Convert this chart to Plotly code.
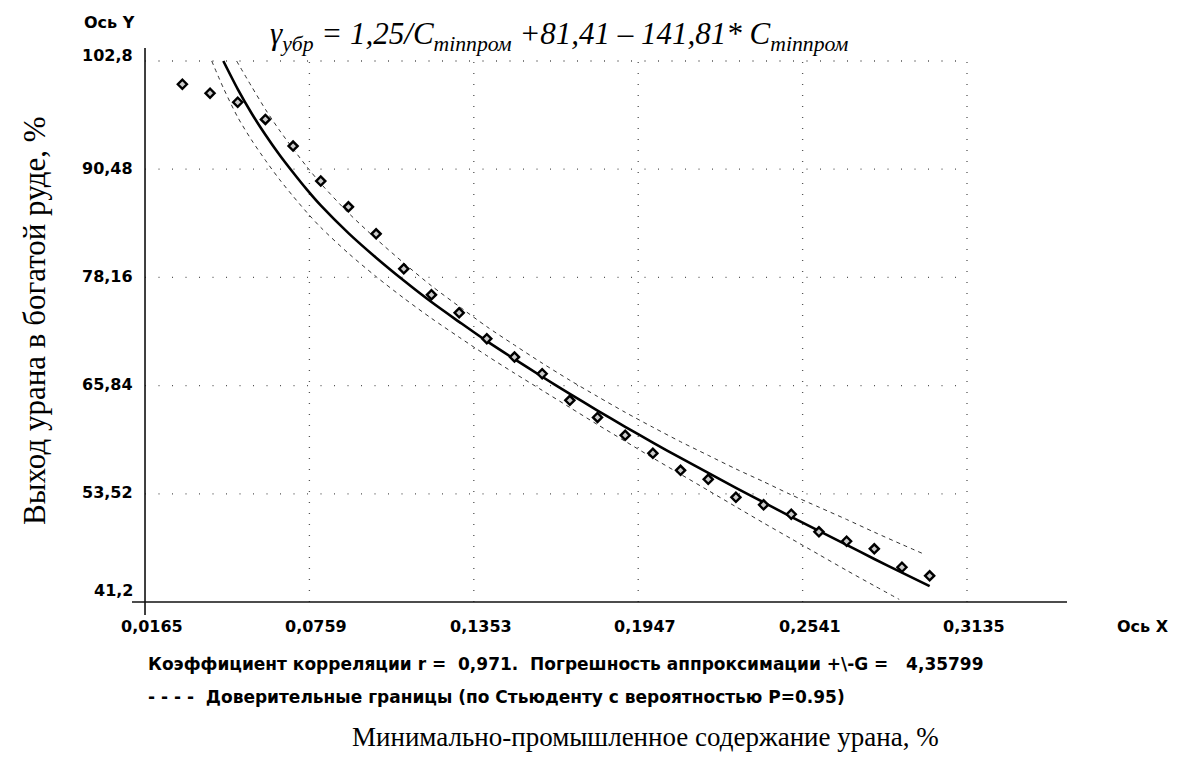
import plotly.graph_objects as go

W, H = 1192, 767

# ---------------- data ----------------
x_pts = [0.03, 0.04, 0.05, 0.06, 0.07, 0.08, 0.09, 0.10, 0.11, 0.12,
         0.13, 0.14, 0.15, 0.16, 0.17, 0.18, 0.19, 0.20, 0.21, 0.22,
         0.23, 0.24, 0.25, 0.26, 0.27, 0.28, 0.29, 0.30]
y_pts = [100.15, 99.13, 98.1, 96.15, 93.11, 89.13, 86.19, 83.12, 79.14, 76.18,
         74.13, 71.18, 69.09, 67.19, 64.16, 62.22, 60.18, 58.13, 56.19, 55.17,
         53.12, 52.26, 51.19, 49.19, 48.12, 47.25, 45.16, 44.18]

x_fit = [0.0448, 0.05, 0.055, 0.06, 0.065, 0.07, 0.075, 0.08, 0.09, 0.10,
         0.11, 0.12, 0.13, 0.14, 0.15, 0.16, 0.17, 0.18, 0.19, 0.20,
         0.21, 0.22, 0.23, 0.24, 0.25, 0.26, 0.27, 0.28, 0.29, 0.30]
y_fit = [102.8, 99.6, 96.85, 94.4, 92.15, 90.1, 88.15, 86.35, 83.2, 80.4,
         77.8, 75.35, 73.1, 70.9, 68.85, 66.85, 64.9, 63.0, 61.15, 59.35,
         57.6, 55.9, 54.2, 52.55, 50.9, 49.3, 47.7, 46.1, 44.55, 43.0]

x_up = [0.0496, 0.055, 0.06, 0.065, 0.07, 0.075, 0.08, 0.09, 0.10, 0.11,
        0.12, 0.13, 0.14, 0.15, 0.16, 0.17, 0.18, 0.19, 0.20, 0.21,
        0.22, 0.23, 0.24, 0.25, 0.26, 0.27, 0.28, 0.29, 0.298]
y_up = [102.8, 99.9, 97.3, 94.95, 92.8, 90.75, 88.85, 85.5, 82.55, 79.8,
        77.2, 74.85, 72.55, 70.45, 68.4, 66.45, 64.6, 62.8, 61.1, 59.45,
        57.9, 56.35, 54.9, 53.4, 52.0, 50.6, 49.15, 47.75, 46.65]

x_lo = [0.0406, 0.045, 0.05, 0.055, 0.06, 0.065, 0.07, 0.075, 0.08, 0.09,
        0.10, 0.11, 0.12, 0.13, 0.14, 0.15, 0.16, 0.17, 0.18, 0.19,
        0.20, 0.21, 0.22, 0.23, 0.24, 0.25, 0.26, 0.27, 0.28, 0.289]
y_lo = [102.8, 99.6, 96.4, 93.8, 91.5, 89.35, 87.4, 85.55, 83.85, 80.9,
        78.25, 75.8, 73.5, 71.35, 69.25, 67.25, 65.3, 63.35, 61.4, 59.5,
        57.6, 55.75, 53.9, 52.05, 50.2, 48.4, 46.6, 44.8, 43.05, 41.5]

x_ticks = [0.0165, 0.0759, 0.1353, 0.1947, 0.2541, 0.3135]
x_tick_text = ["0,0165", "0,0759", "0,1353", "0,1947", "0,2541", "0,3135"]
y_ticks = [41.2, 53.52, 65.84, 78.16, 90.48, 102.8]
y_tick_text = ["41,2", "53,52", "65,84", "78,16", "90,48", "102,8"]

# ---------------- layout geometry (pixels) ----------------
PX_L, PX_R = 132, 1067      # plot area horizontal extent
PY_T, PY_B = 48, 615        # plot area vertical extent
X_RANGE = [0.01180, 0.34963]
Y_RANGE = [39.721, 104.279]

SANS = "DejaVu Sans"
SERIF = "Liberation Serif"

def px(v):
    return v / W

def py(v):
    return 1 - v / H

fig = go.Figure()

band_line = dict(color="#333333", width=1, dash="4px,4px", shape="spline", smoothing=0.8)
fig.add_trace(go.Scatter(x=x_up, y=y_up, mode="lines", line=band_line,
                         hoverinfo="skip", showlegend=False))
fig.add_trace(go.Scatter(x=x_lo, y=y_lo, mode="lines", line=band_line,
                         hoverinfo="skip", showlegend=False))
fig.add_trace(go.Scatter(x=x_fit, y=y_fit, mode="lines",
                         line=dict(color="black", width=2.6, shape="spline", smoothing=0.8),
                         hoverinfo="skip", showlegend=False))
fig.add_trace(go.Scatter(x=x_pts, y=y_pts, mode="markers",
                         marker=dict(symbol="diamond", size=7, color="#cccccc",
                                     line=dict(color="black", width=2.4)),
                         showlegend=False))

shapes = []
for xv in x_ticks[1:]:
    shapes.append(dict(type="line", xref="x", yref="y", x0=xv, x1=xv,
                       y0=y_ticks[0], y1=y_ticks[-1],
                       line=dict(color="#555555", width=1.3, dash="1px,10px"), layer="below"))
for yv in y_ticks[1:]:
    shapes.append(dict(type="line", xref="x", yref="y", x0=x_ticks[0], x1=x_ticks[-1],
                       y0=yv, y1=yv,
                       line=dict(color="#555555", width=1.3, dash="1px,12.5px"), layer="below"))
shapes.append(dict(type="line", xref="x", yref="paper", x0=x_ticks[0], x1=x_ticks[0],
                   y0=py(PY_B), y1=py(PY_T), line=dict(color="#111111", width=1.6)))
shapes.append(dict(type="line", xref="paper", yref="y", x0=px(PX_L), x1=px(PX_R),
                   y0=y_ticks[0], y1=y_ticks[0], line=dict(color="#111111", width=1.6)))

ann = []
tick_font = dict(family=SANS, size=16, color="black", weight="bold")
for v, t in zip(x_ticks, x_tick_text):
    ann.append(dict(x=v, y=py(626), xref="x", yref="paper", text=t, showarrow=False,
                    xanchor="center", yanchor="middle", xshift=7, font=tick_font))
for v, t in zip(y_ticks, y_tick_text):
    shift = 12 if v == y_ticks[0] else (5 if v == y_ticks[-1] else 1)
    ann.append(dict(x=px(135), y=v, xref="paper", yref="y", text=t, showarrow=False,
                    xanchor="right", yanchor="middle", yshift=shift, font=tick_font))

ann.append(dict(x=px(137), y=py(22), xref="paper", yref="paper", text="Ось Y", showarrow=False,
                xanchor="right", yanchor="middle", font=tick_font))
ann.append(dict(x=px(1143), y=py(626), xref="paper", yref="paper", text="Ось X", showarrow=False,
                xanchor="center", yanchor="middle", font=tick_font))

ann.append(dict(x=px(268), y=py(36), xref="paper", yref="paper",
                text="<i>γ<sub>убр</sub> = 1,25/C<sub>minпром</sub> +81,41 – 141,81* C<sub>minпром</sub></i>",
                showarrow=False, xanchor="left", yanchor="middle",
                font=dict(family=SERIF, size=31, color="black")))

text_font = dict(family=SANS, size=17, color="black", weight="bold")
ann.append(dict(x=px(146), y=py(664), xref="paper", yref="paper",
                text="Коэффициент корреляции r =  0,971.  Погрешность аппроксимации +\\-G =   4,35799",
                showarrow=False, xanchor="left", yanchor="middle", font=text_font))
ann.append(dict(x=px(146), y=py(697), xref="paper", yref="paper",
                text="- - - -  Доверительные границы (по Стьюденту с вероятностью P=0.95)",
                showarrow=False, xanchor="left", yanchor="middle", font=text_font))
ann.append(dict(x=px(645), y=py(737), xref="paper", yref="paper",
                text="Минимально-промышленное содержание урана, %",
                showarrow=False, xanchor="center", yanchor="middle",
                font=dict(family=SERIF, size=27, color="black")))
ann.append(dict(x=px(34), y=py(321), xref="paper", yref="paper",
                text="Выход урана в богатой руде, %", textangle=-90,
                showarrow=False, xanchor="center", yanchor="middle",
                font=dict(family=SERIF, size=31, color="black")))

fig.update_layout(
    width=W, height=H,
    margin=dict(l=0, r=0, t=0, b=0),
    paper_bgcolor="white", plot_bgcolor="white",
    showlegend=False,
    xaxis=dict(domain=[px(PX_L), px(PX_R)], range=X_RANGE, showgrid=False, zeroline=False,
               showticklabels=False, showline=False, ticks=""),
    yaxis=dict(domain=[py(PY_B), py(PY_T)], range=Y_RANGE, showgrid=False, zeroline=False,
               showticklabels=False, showline=False, ticks=""),
    shapes=shapes,
    annotations=ann,
)

fig.write_html("out.html")
